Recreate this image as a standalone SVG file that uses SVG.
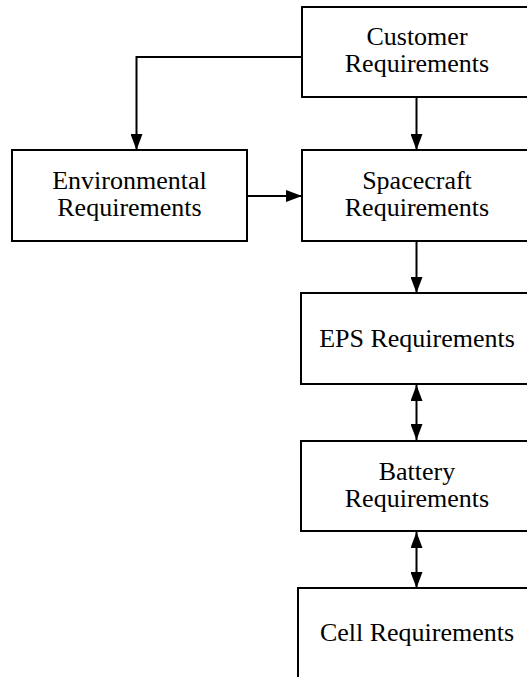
<svg xmlns="http://www.w3.org/2000/svg" width="527" height="677" viewBox="0 0 527 677">
<style>
.box{fill:#fff;stroke:#000;stroke-width:2}
.lbl{font-family:"Liberation Serif","Times New Roman",serif;font-size:26px;fill:#000;text-anchor:middle}
.con{fill:none;stroke:#000;stroke-width:2}
</style>
<defs>
<marker id="ah" markerUnits="userSpaceOnUse" markerWidth="16" markerHeight="12" refX="16" refY="6" orient="auto-start-reverse">
<path d="M0,0 L16,6 L0,12 z" fill="#000"/>
</marker>
</defs>
<rect width="527" height="677" fill="#fff"/>
<g id="connectors">
<path class="con" d="M302,57 H136.5 V150" marker-end="url(#ah)"/>
<path class="con" d="M416.5,97 V150" marker-end="url(#ah)"/>
<path class="con" d="M247,196 H302" marker-end="url(#ah)"/>
<path class="con" d="M416.5,241 V293" marker-end="url(#ah)"/>
<path class="con" d="M416.5,385 V440" marker-start="url(#ah)" marker-end="url(#ah)"/>
<path class="con" d="M416.5,532 V588" marker-start="url(#ah)" marker-end="url(#ah)"/>
</g>
<g id="customer">
<rect class="box" x="302" y="7" width="240" height="90"/>
<text class="lbl" x="417" y="45">Customer</text>
<text class="lbl" x="417" y="72">Requirements</text>
</g>
<g id="environmental">
<rect class="box" x="12" y="150" width="235" height="91"/>
<text class="lbl" x="129.5" y="189">Environmental</text>
<text class="lbl" x="129.5" y="216">Requirements</text>
</g>
<g id="spacecraft">
<rect class="box" x="302" y="150" width="240" height="91"/>
<text class="lbl" x="417" y="189">Spacecraft</text>
<text class="lbl" x="417" y="216">Requirements</text>
</g>
<g id="eps">
<rect class="box" x="301" y="293" width="240" height="91"/>
<text class="lbl" x="417" y="347">EPS Requirements</text>
</g>
<g id="battery">
<rect class="box" x="301" y="441" width="240" height="90"/>
<text class="lbl" x="417" y="480">Battery</text>
<text class="lbl" x="417" y="507">Requirements</text>
</g>
<g id="cell">
<rect class="box" x="298" y="588" width="245" height="100"/>
<text class="lbl" x="417" y="641">Cell Requirements</text>
</g>
</svg>
